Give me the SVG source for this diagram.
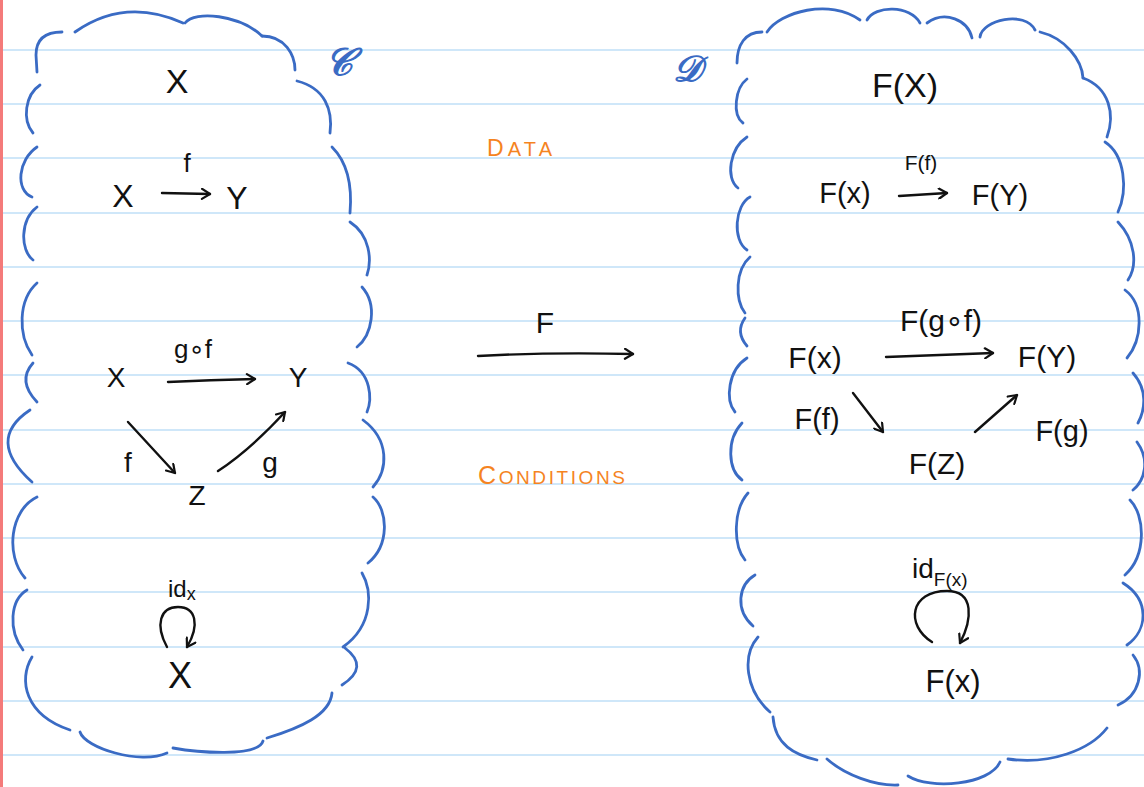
<svg xmlns="http://www.w3.org/2000/svg" width="1144" height="787" viewBox="0 0 1144 787">
<defs>
<style>
.rule{stroke:#cfe7f9;stroke-width:2}
.cl{fill:none;stroke:#3a6bc4;stroke-width:2.8;stroke-linecap:round}
.t{font-family:"Liberation Sans","DejaVu Sans",sans-serif;fill:#111;text-anchor:middle}
.o{font-family:"Liberation Sans","DejaVu Sans",sans-serif;fill:#f5841f}
.s{font-family:"DejaVu Serif","Liberation Serif",serif;fill:#3a6bc4;stroke:#3a6bc4;stroke-width:1.3;font-style:italic}
.c{fill:none;stroke:#111;stroke-width:2.4;stroke-linecap:round;marker-end:url(#ah)}
</style>
<marker id="ah" viewBox="0 0 12 12" refX="10" refY="6" markerWidth="12" markerHeight="12" markerUnits="userSpaceOnUse" orient="auto">
<path d="M2,1 L10,6 L2,11" fill="none" stroke="#111" stroke-width="2.2" stroke-linecap="round" stroke-linejoin="round"/>
</marker>
</defs>
<rect width="1144" height="787" fill="#fff"/>
<g id="paper">
<line class="rule" x1="0" y1="50" x2="1144" y2="50"/>
<line class="rule" x1="0" y1="104" x2="1144" y2="104"/>
<line class="rule" x1="0" y1="158" x2="1144" y2="158"/>
<line class="rule" x1="0" y1="213" x2="1144" y2="213"/>
<line class="rule" x1="0" y1="267" x2="1144" y2="267"/>
<line class="rule" x1="0" y1="321" x2="1144" y2="321"/>
<line class="rule" x1="0" y1="375" x2="1144" y2="375"/>
<line class="rule" x1="0" y1="430" x2="1144" y2="430"/>
<line class="rule" x1="0" y1="484" x2="1144" y2="484"/>
<line class="rule" x1="0" y1="538" x2="1144" y2="538"/>
<line class="rule" x1="0" y1="592" x2="1144" y2="592"/>
<line class="rule" x1="0" y1="647" x2="1144" y2="647"/>
<line class="rule" x1="0" y1="701" x2="1144" y2="701"/>
<line class="rule" x1="0" y1="755" x2="1144" y2="755"/>
<rect x="0" y="0" width="3" height="787" fill="#f47a7a"/>
</g>
<g id="cloud-C">
<path class="cl" d="M62,32 Q36,32 36,55 L37,72"/>
<path class="cl" d="M75,32 Q125,-3 183,23"/>
<path class="cl" d="M185,23 C195,10 240,15 262,36"/>
<path class="cl" d="M262,36 C285,36 295,55 295,70"/>
<path class="cl" d="M297,81 C325,88 333,110 330,133"/>
<path class="cl" d="M332,147 C350,165 352,190 350,213"/>
<path class="cl" d="M350,222 C370,235 372,260 367,275"/>
<path class="cl" d="M362,287 C378,305 372,335 357,347"/>
<path class="cl" d="M348,363 C372,372 372,400 367,412"/>
<path class="cl" d="M363,420 C390,440 388,470 373,487"/>
<path class="cl" d="M373,497 C388,510 390,545 368,563"/>
<path class="cl" d="M362,573 C372,590 374,625 343,647"/>
<path class="cl" d="M345,648 Q370,667 342,685"/>
<path class="cl" d="M332,693 C330,715 300,728 267,738"/>
<path class="cl" d="M173,748 C195,752 258,758 263,741"/>
<path class="cl" d="M80,732 C85,748 140,765 167,753"/>
<path class="cl" d="M32,657 C18,680 25,715 70,730"/>
<path class="cl" d="M27,590 C10,600 8,630 23,650"/>
<path class="cl" d="M37,497 C10,510 5,555 25,578"/>
<path class="cl" d="M30,410 Q-15,440 32,482"/>
<path class="cl" d="M33,363 Q17,381 37,402"/>
<path class="cl" d="M37,283 C18,300 18,335 32,355"/>
<path class="cl" d="M37,207 C20,220 20,250 33,260"/>
<path class="cl" d="M37,147 C18,160 15,190 32,197"/>
<path class="cl" d="M40,85 C25,95 22,120 33,133"/>
</g>
<g id="cloud-D">
<path class="cl" d="M762,32 C745,32 737,45 737,63"/>
<path class="cl" d="M767,32 C780,12 830,-2 860,20"/>
<path class="cl" d="M867,20 C875,5 910,5 920,23"/>
<path class="cl" d="M927,23 C945,10 968,20 972,38"/>
<path class="cl" d="M980,37 C982,20 1025,10 1035,30"/>
<path class="cl" d="M1040,32 C1065,38 1082,60 1083,78"/>
<path class="cl" d="M1083,78 C1110,88 1115,115 1107,137"/>
<path class="cl" d="M1105,142 C1125,155 1128,190 1118,212"/>
<path class="cl" d="M1118,222 C1135,240 1138,265 1128,280"/>
<path class="cl" d="M1125,290 C1145,305 1142,340 1127,358"/>
<path class="cl" d="M1133,373 C1148,390 1145,410 1138,423"/>
<path class="cl" d="M1137,442 C1150,460 1145,480 1133,490"/>
<path class="cl" d="M1130,500 C1145,515 1147,555 1125,575"/>
<path class="cl" d="M1123,583 C1150,600 1148,630 1127,645"/>
<path class="cl" d="M1133,655 C1145,670 1140,695 1118,705"/>
<path class="cl" d="M1107,728 C1090,750 1050,765 1008,759"/>
<path class="cl" d="M1000,762 C990,785 930,790 908,776"/>
<path class="cl" d="M898,785 C875,786 845,775 827,759"/>
<path class="cl" d="M817,760 C795,755 775,745 773,717"/>
<path class="cl" d="M770,712 C745,690 742,655 758,637"/>
<path class="cl" d="M753,626 C735,610 738,585 755,575"/>
<path class="cl" d="M748,493 C733,510 733,545 745,560"/>
<path class="cl" d="M742,423 C726,440 728,470 742,480"/>
<path class="cl" d="M747,358 C728,370 725,400 735,412"/>
<path class="cl" d="M745,318 Q735,332 747,346"/>
<path class="cl" d="M750,257 C735,270 735,300 745,313"/>
<path class="cl" d="M750,197 C735,205 732,240 747,250"/>
<path class="cl" d="M747,137 C730,148 725,178 738,188"/>
<path class="cl" d="M747,79 C735,88 732,115 743,123"/>
</g>
<g id="connectors">
<path id="a-f" class="c" d="M162,193 L210,194"/>
<path id="a-gof" class="c" d="M168,382 Q210,380 255,379"/>
<path id="a-f2" class="c" d="M128,422 L175,473"/>
<path id="a-g" class="c" d="M218,471 Q250,450 285,412"/>
<path id="a-idx" class="c" d="M167,647 C155,625 160,607 178,607 C196,607 200,625 187,647"/>
<path id="a-F" class="c" d="M478,356 Q550,352 633,354"/>
<path id="a-Ff" class="c" d="M899,196 L947,193"/>
<path id="a-Fgof" class="c" d="M886,357 L993,353"/>
<path id="a-Ff2" class="c" d="M853,393 L883,432"/>
<path id="a-Fg" class="c" d="M975,432 L1017,395"/>
<path id="a-idFx" class="c" d="M932,642 C905,625 910,591 947,591 C975,591 972,620 960,643"/>
</g>
<g id="label-C"><text class="s" x="325" y="75" font-size="38">𝒞</text></g>
<g id="label-D"><text class="s" x="673" y="81" font-size="36">𝒟</text></g>
<g id="n-X1"><text class="t" x="177" y="93" font-size="34">X</text></g>
<g id="n-X2"><text class="t" x="123" y="207" font-size="32">X</text></g>
<g id="n-Y2"><text class="t" x="237" y="209" font-size="32">Y</text></g>
<text class="t" x="187" y="172" font-size="26">f</text>
<g id="n-X3"><text class="t" x="116" y="387" font-size="28">X</text></g>
<g id="n-Y3"><text class="t" x="298" y="387" font-size="28">Y</text></g>
<g id="n-Z3"><text class="t" x="197" y="505" font-size="28">Z</text></g>
<text class="t" x="193" y="358" font-size="26">g∘f</text>
<text class="t" x="128" y="472" font-size="28">f</text>
<text class="t" x="270" y="472" font-size="28">g</text>
<text class="t" x="168" y="597" font-size="24" style="text-anchor:start">id<tspan font-size="18" dy="3">x</tspan></text>
<g id="n-X4"><text class="t" x="180" y="688" font-size="36">X</text></g>
<g id="mid">
<text class="o" x="487" y="156" font-size="20" textLength="65"><tspan font-size="23">D</tspan>ATA</text>
<text class="t" x="545" y="333" font-size="30">F</text>
<text class="o" x="478" y="484" font-size="19" textLength="147"><tspan font-size="25">C</tspan>ONDITIONS</text>
</g>
<g id="n-FX1"><text class="t" x="905" y="97" font-size="34">F(X)</text></g>
<text class="t" x="921" y="170" font-size="21">F(f)</text>
<g id="n-FX2"><text class="t" x="845" y="203" font-size="29">F(x)</text></g>
<g id="n-FY2"><text class="t" x="1000" y="205" font-size="29">F(Y)</text></g>
<text class="t" x="941" y="331" font-size="30">F(g∘f)</text>
<g id="n-FX3"><text class="t" x="815" y="368" font-size="30">F(x)</text></g>
<g id="n-FY3"><text class="t" x="1047" y="367" font-size="30">F(Y)</text></g>
<text class="t" x="817" y="429" font-size="29">F(f)</text>
<g id="n-FZ3"><text class="t" x="937" y="474" font-size="30">F(Z)</text></g>
<text class="t" x="1062" y="441" font-size="29">F(g)</text>
<text class="t" x="912" y="578" font-size="28" style="text-anchor:start">id<tspan font-size="19" dy="8">F(x)</tspan></text>
<g id="n-FX4"><text class="t" x="953" y="692" font-size="31">F(x)</text></g>
</svg>
